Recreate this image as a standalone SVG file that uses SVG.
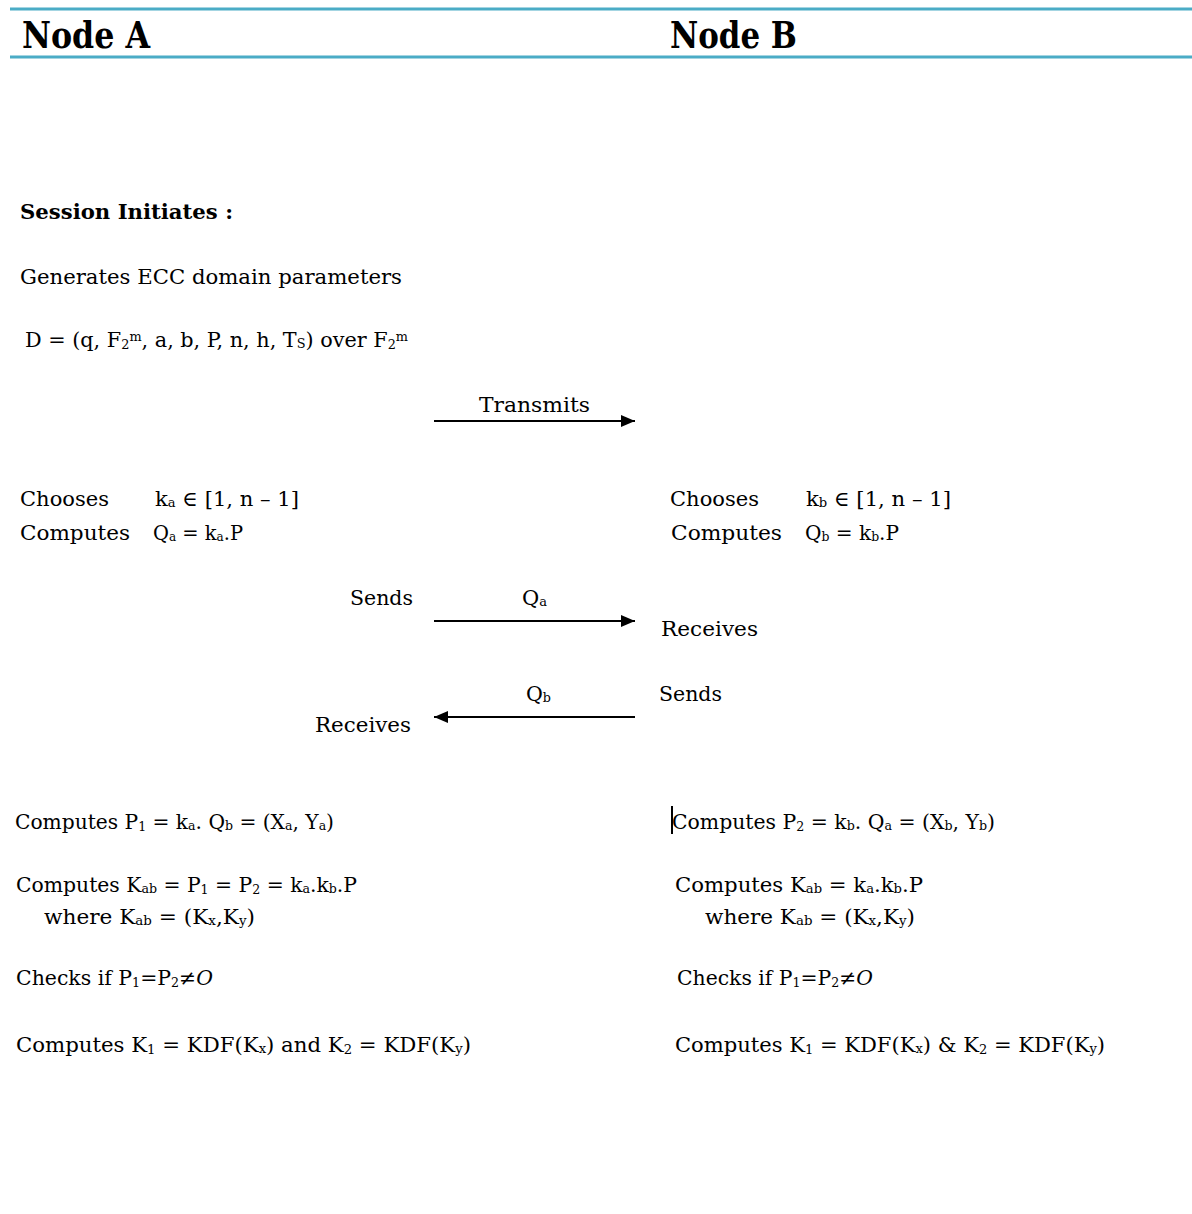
<svg xmlns="http://www.w3.org/2000/svg" width="1192" height="1214" viewBox="0 0 1192 1214">
<style>
text{font-family:"DejaVu Serif","Liberation Serif",serif;font-size:21px;fill:#000}
.h{font-size:37px;font-weight:bold}
.b{font-weight:bold}
.s{font-size:13px}
.rule{stroke:#4BACC6;stroke-width:3}
.conn{stroke:#000;stroke-width:2;fill:none}
</style>
<defs>
<marker id="ah" viewBox="0 0 14 12" refX="14" refY="6" markerWidth="14" markerHeight="12" markerUnits="userSpaceOnUse" orient="auto">
<path d="M0,0 L14,6 L0,12 z" fill="#000"/>
</marker>
</defs>
<rect width="1192" height="1214" fill="#fff"/>
<g id="header">
<line class="rule" x1="10" y1="9" x2="1192" y2="9"/>
<line class="rule" x1="10" y1="57" x2="1192" y2="57"/>
<text class="h" x="22" y="48" textLength="128" lengthAdjust="spacingAndGlyphs">Node A</text>
<text class="h" x="670" y="48" textLength="127" lengthAdjust="spacingAndGlyphs">Node B</text>
</g>
<g id="node-a">
<text class="b" x="20" y="219" textLength="213" lengthAdjust="spacingAndGlyphs">Session Initiates :</text>
<text x="20" y="284" textLength="382" lengthAdjust="spacingAndGlyphs">Generates  ECC domain parameters</text>
<text x="25" y="347" textLength="383" lengthAdjust="spacingAndGlyphs">D = (q, F<tspan class="s" baseline-shift="-2">2</tspan><tspan class="s" baseline-shift="6">m</tspan>, a, b, P, n, h, T<tspan class="s" baseline-shift="-1">S</tspan>) over F<tspan class="s" baseline-shift="-2">2</tspan><tspan class="s" baseline-shift="6">m</tspan></text>
<text x="20" y="506" textLength="89" lengthAdjust="spacingAndGlyphs">Chooses</text>
<text x="155" y="506" textLength="144" lengthAdjust="spacingAndGlyphs">k<tspan class="s" baseline-shift="-1">a</tspan> ∈ [1, n – 1]</text>
<text x="20" y="540" textLength="110" lengthAdjust="spacingAndGlyphs">Computes</text>
<text x="153" y="540" textLength="90" lengthAdjust="spacingAndGlyphs">Q<tspan class="s" baseline-shift="-1">a</tspan> = k<tspan class="s" baseline-shift="-1">a</tspan>.P</text>
<text x="350" y="605" textLength="63" lengthAdjust="spacingAndGlyphs">Sends</text>
<text x="315" y="732" textLength="96" lengthAdjust="spacingAndGlyphs">Receives</text>
<text x="15" y="829" textLength="319" lengthAdjust="spacingAndGlyphs">Computes P<tspan class="s" baseline-shift="-2">1</tspan> = k<tspan class="s" baseline-shift="-1">a</tspan>. Q<tspan class="s" baseline-shift="-1">b</tspan> = (X<tspan class="s" baseline-shift="-1">a</tspan>, Y<tspan class="s" baseline-shift="-1">a</tspan>)</text>
<text x="16" y="892" textLength="341" lengthAdjust="spacingAndGlyphs">Computes K<tspan class="s" baseline-shift="-1">ab</tspan> = P<tspan class="s" baseline-shift="-2">1</tspan> =  P<tspan class="s" baseline-shift="-2">2</tspan> = k<tspan class="s" baseline-shift="-1">a</tspan>.k<tspan class="s" baseline-shift="-1">b</tspan>.P</text>
<text x="44" y="924" textLength="211" lengthAdjust="spacingAndGlyphs">where  K<tspan class="s" baseline-shift="-1">ab</tspan> = (K<tspan class="s" baseline-shift="-1">x</tspan>,K<tspan class="s" baseline-shift="-1">y</tspan>)</text>
<text x="16" y="985" textLength="197" lengthAdjust="spacingAndGlyphs">Checks if P<tspan class="s" baseline-shift="-2">1</tspan>=P<tspan class="s" baseline-shift="-2">2</tspan>≠<tspan font-style="italic">O</tspan></text>
<text x="16" y="1052" textLength="455" lengthAdjust="spacingAndGlyphs">Computes  K<tspan class="s" baseline-shift="-2">1</tspan> = KDF(K<tspan class="s" baseline-shift="-1">x</tspan>) and K<tspan class="s" baseline-shift="-2">2</tspan> = KDF(K<tspan class="s" baseline-shift="-1">y</tspan>)</text>
</g>
<g id="node-b">
<text x="670" y="506" textLength="89" lengthAdjust="spacingAndGlyphs">Chooses</text>
<text x="806" y="506" textLength="145" lengthAdjust="spacingAndGlyphs">k<tspan class="s" baseline-shift="-1">b</tspan> ∈ [1, n – 1]</text>
<text x="671" y="540" textLength="111" lengthAdjust="spacingAndGlyphs">Computes</text>
<text x="805" y="540" textLength="94" lengthAdjust="spacingAndGlyphs">Q<tspan class="s" baseline-shift="-1">b</tspan> = k<tspan class="s" baseline-shift="-1">b</tspan>.P</text>
<text x="661" y="636" textLength="97" lengthAdjust="spacingAndGlyphs">Receives</text>
<text x="659" y="701" textLength="63" lengthAdjust="spacingAndGlyphs">Sends</text>
<line x1="672" y1="806" x2="672" y2="834" stroke="#000" stroke-width="2"/>
<text x="672" y="829" textLength="323" lengthAdjust="spacingAndGlyphs">Computes P<tspan class="s" baseline-shift="-2">2</tspan> = k<tspan class="s" baseline-shift="-1">b</tspan>. Q<tspan class="s" baseline-shift="-1">a</tspan> = (X<tspan class="s" baseline-shift="-1">b</tspan>, Y<tspan class="s" baseline-shift="-1">b</tspan>)</text>
<text x="675" y="892" textLength="248" lengthAdjust="spacingAndGlyphs">Computes K<tspan class="s" baseline-shift="-1">ab</tspan> =  k<tspan class="s" baseline-shift="-1">a</tspan>.k<tspan class="s" baseline-shift="-1">b</tspan>.P</text>
<text x="705" y="924" textLength="210" lengthAdjust="spacingAndGlyphs">where  K<tspan class="s" baseline-shift="-1">ab</tspan> = (K<tspan class="s" baseline-shift="-1">x</tspan>,K<tspan class="s" baseline-shift="-1">y</tspan>)</text>
<text x="677" y="985" textLength="196" lengthAdjust="spacingAndGlyphs">Checks if P<tspan class="s" baseline-shift="-2">1</tspan>=P<tspan class="s" baseline-shift="-2">2</tspan>≠<tspan font-style="italic">O</tspan></text>
<text x="675" y="1052" textLength="430" lengthAdjust="spacingAndGlyphs">Computes  K<tspan class="s" baseline-shift="-2">1</tspan> = KDF(K<tspan class="s" baseline-shift="-1">x</tspan>) &amp; K<tspan class="s" baseline-shift="-2">2</tspan> = KDF(K<tspan class="s" baseline-shift="-1">y</tspan>)</text>
</g>
<g id="connectors">
<line class="conn" x1="434" y1="421" x2="635" y2="421" marker-end="url(#ah)"/>
<text x="479" y="412" textLength="111" lengthAdjust="spacingAndGlyphs">Transmits</text>
<line class="conn" x1="434" y1="621" x2="635" y2="621" marker-end="url(#ah)"/>
<text x="522" y="605" textLength="25" lengthAdjust="spacingAndGlyphs">Q<tspan class="s" baseline-shift="-1">a</tspan></text>
<line class="conn" x1="635" y1="717" x2="434" y2="717" marker-end="url(#ah)"/>
<text x="526" y="701" textLength="25" lengthAdjust="spacingAndGlyphs">Q<tspan class="s" baseline-shift="-1">b</tspan></text>
</g>
</svg>
